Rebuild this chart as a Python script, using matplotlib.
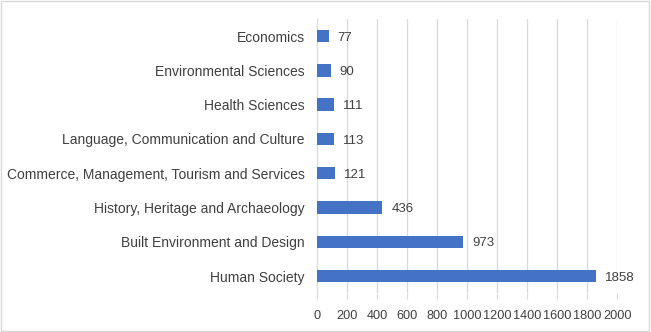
import matplotlib.pyplot as plt
from matplotlib.patches import Rectangle

plt.switch_backend("Agg")

categories = [
    "Human Society",
    "Built Environment and Design",
    "History, Heritage and Archaeology",
    "Commerce, Management, Tourism and Services",
    "Language, Communication and Culture",
    "Health Sciences",
    "Environmental Sciences",
    "Economics",
]
values = [1858, 973, 436, 121, 113, 111, 90, 77]
x_ticks = list(range(0, 2001, 200))

plt.rcParams["font.family"] = ["Liberation Sans", "DejaVu Sans"]
text_color = "#404040"

fig = plt.figure(figsize=(6.51, 3.32), dpi=100)
ax = fig.add_axes([0.487, 0.117, 0.461, 0.826])

y = list(range(len(categories)))
ax.barh(y, values, height=0.36, color="#4472C4", zorder=3)
for yi, v in zip(y, values):
    ax.annotate(str(v), (v, yi), xytext=(6.5, -1.2), textcoords="offset points",
                va="center", ha="left", fontsize=9.5, color=text_color)

ax.set_xlim(0, 2000)
ax.set_ylim(-0.5, len(categories) - 0.5)
ax.set_xticks(x_ticks)
ax.set_yticks(y)
ax.set_yticklabels(categories)
ax.grid(axis="x", color="#d9d9d9", linewidth=0.9, zorder=0)
for side in ["top", "right", "bottom"]:
    ax.spines[side].set_visible(False)
ax.spines["left"].set_color("#d9d9d9")
ax.tick_params(axis="y", length=0, pad=9, labelsize=10, labelcolor=text_color)
ax.tick_params(axis="x", length=4, color="#d9d9d9", pad=8, labelsize=9.2,
               labelcolor=text_color)

fig.patches.append(Rectangle((0.002, 0.003), 0.995, 0.993, transform=fig.transFigure,
                             fill=False, edgecolor="#d9d9d9", linewidth=1))

fig.savefig("out.png", dpi=100)
